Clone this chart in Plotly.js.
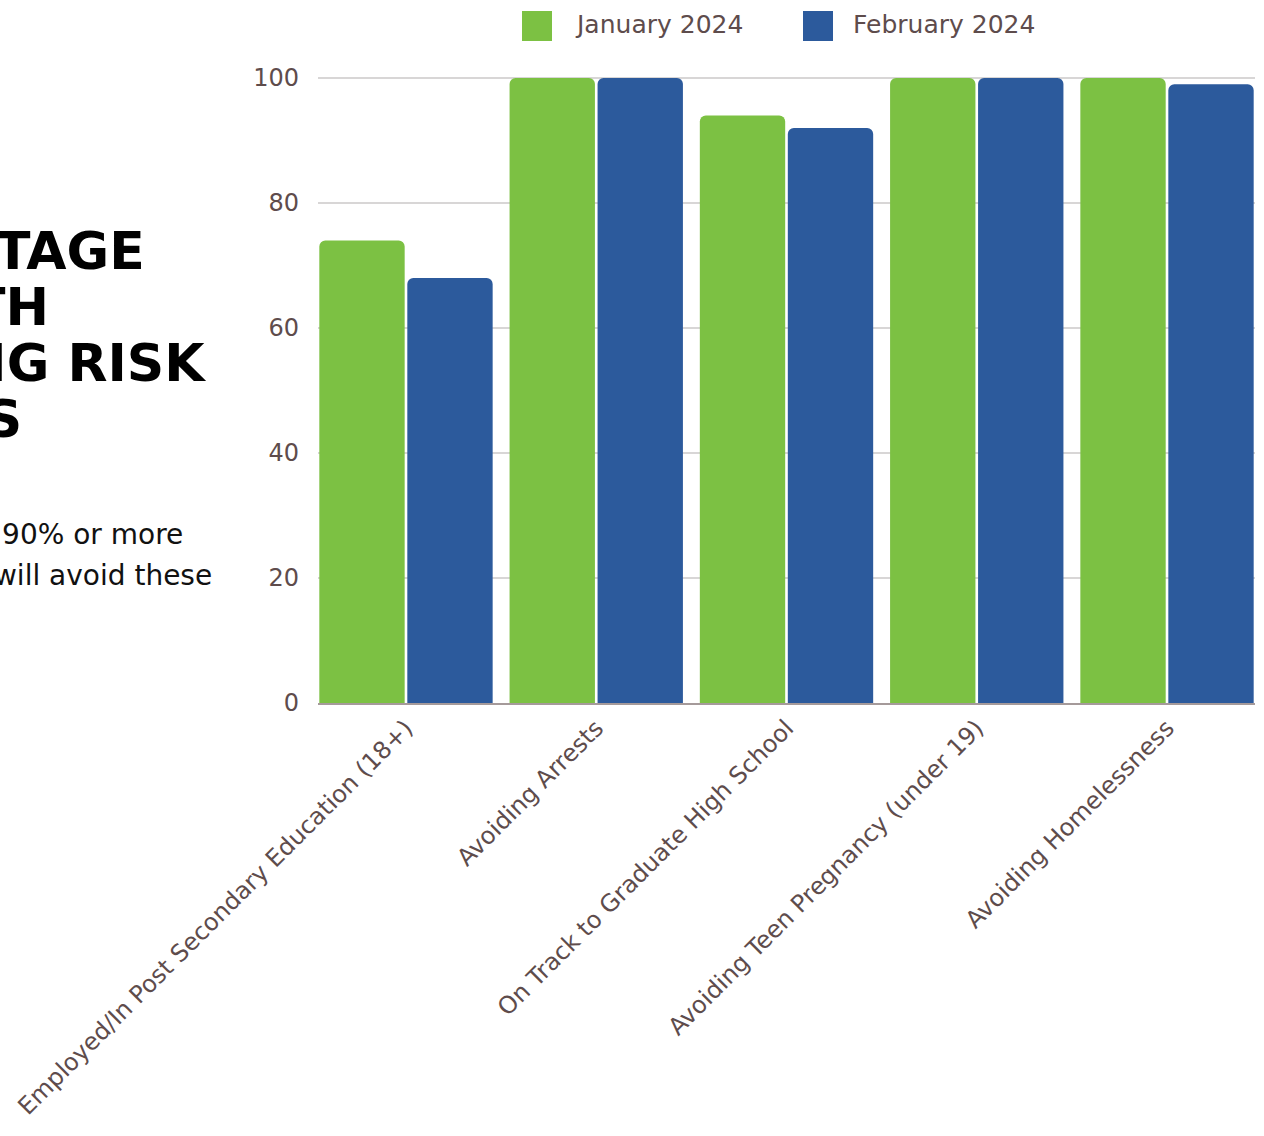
<!DOCTYPE html>
<html>
<head>
<meta charset="utf-8">
<script src="https://cdn.plot.ly/plotly-3.0.1.min.js"></script>
<style>html,body{margin:0;padding:0;background:#fff;}#chart{width:1264px;height:1136px;}</style>
</head>
<body>
<div id="chart"></div>
<script>
const categories = [
  "Employed/In Post Secondary Education (18+)",
  "Avoiding Arrests",
  "On Track to Graduate High School",
  "Avoiding Teen Pregnancy (under 19)",
  "Avoiding Homelessness"
];
const seriesNames = ["January 2024", "February 2024"];
const january2024 = [74, 100, 94, 100, 100];
const february2024 = [68, 100, 92, 100, 99];
const yTicks = [0, 20, 40, 60, 80, 100];
const titleLines = ["PERCENTAGE", "OF YOUTH", "AVOIDING RISK", "FACTORS"];
const subtitleLines = ["Goal: 90% or more", "of youth will avoid these"];

const W = 1264, H = 1136;
const M = {l: 318, r: 9, t: 76, b: 433};
const PW = W - M.l - M.r, PH = H - M.t - M.b;
const px = x => (x - M.l) / PW;
const py = y => (H - M.b - y) / PH;

const green = "#7cc143";
const blue = "#2c5a9c";
const textCol = "#5e4c4c";
const FONT = "DejaVu Sans, Noto Sans, sans-serif";
const BARGAP = 0.075;

const traces = [
  {type: "bar", name: seriesNames[0], x: categories, y: january2024,
   marker: {color: green, cornerradius: 6}, showlegend: false, hoverinfo: "x+y"},
  {type: "bar", name: seriesNames[1], x: categories, y: february2024,
   marker: {color: blue, cornerradius: 6}, showlegend: false, hoverinfo: "x+y"}
];

const shapes = [
  {type: "rect", xref: "paper", yref: "paper", x0: px(522), x1: px(552), y0: py(41), y1: py(11),
   fillcolor: green, line: {width: 0}},
  {type: "rect", xref: "paper", yref: "paper", x0: px(803), x1: px(833), y0: py(41), y1: py(11),
   fillcolor: blue, line: {width: 0}}
];

const annotations = [
  {xref: "paper", yref: "paper", x: px(573), y: py(25), xanchor: "left", yanchor: "middle",
   text: seriesNames[0], showarrow: false, font: {family: FONT, size: 25, color: textCol}},
  {xref: "paper", yref: "paper", x: px(851), y: py(25), xanchor: "left", yanchor: "middle",
   text: seriesNames[1], showarrow: false, font: {family: FONT, size: 25, color: textCol}}
];
const titleRight = [147, 51, 208, 24];
const titleY = [251, 307, 363, 419];
titleLines.forEach((t, i) => annotations.push({
  xref: "paper", yref: "paper", x: px(titleRight[i]), y: py(titleY[i]), xanchor: "right", yanchor: "middle",
  text: "<b>" + t + "</b>", showarrow: false,
  font: {family: FONT, size: 52, color: "#000", weight: 900}
}));
const subRight = [185, 214];
const subY = [534, 575];
subtitleLines.forEach((t, i) => annotations.push({
  xref: "paper", yref: "paper", x: px(subRight[i]), y: py(subY[i]), xanchor: "right", yanchor: "middle",
  text: t, showarrow: false, font: {family: FONT, size: 28, color: "#111"}
}));

const n = categories.length;
const layout = {
  width: W, height: H,
  margin: M,
  paper_bgcolor: "#fff", plot_bgcolor: "#fff",
  barmode: "group",
  bargap: BARGAP,
  bargroupgap: 0.03,
  showlegend: false,
  font: {family: FONT, color: textCol},
  xaxis: {
    type: "category",
    range: [-0.5 + BARGAP / 2, n - 0.5 - BARGAP / 2],
    tickangle: -45,
    tickfont: {family: FONT, size: 24, color: textCol},
    showline: true, linecolor: "#a59a9a", linewidth: 1.5,
    ticks: "", showgrid: false
  },
  yaxis: {
    range: [0, 100.3],
    tickvals: yTicks,
    ticktext: yTicks.map(String),
    tickfont: {family: FONT, size: 24, color: textCol},
    showgrid: true, gridcolor: "#d8d6d6", gridwidth: 1.5,
    zeroline: false, showline: false, ticks: "",
    ticklabelstandoff: 18
  },
  shapes: shapes,
  annotations: annotations
};

Plotly.newPlot("chart", traces, layout, {displayModeBar: false, staticPlot: true});
</script>
</body>
</html>
